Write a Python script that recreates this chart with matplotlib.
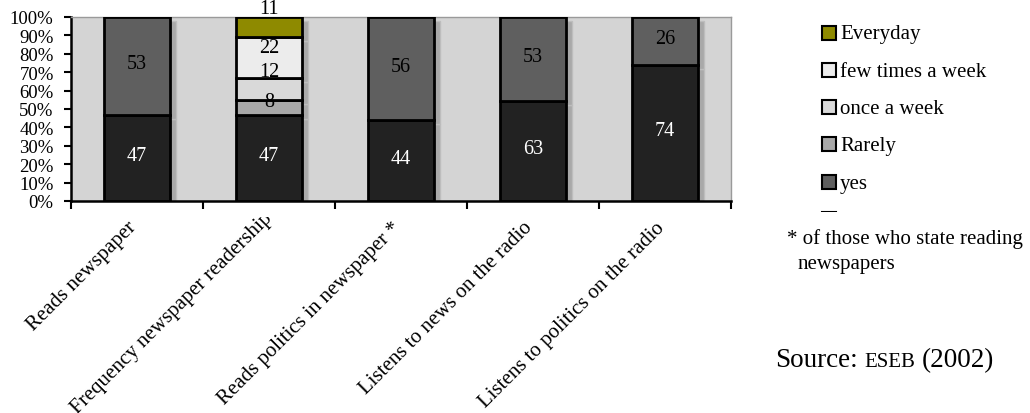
import numpy as np
import matplotlib
matplotlib.use("Agg")
import matplotlib.pyplot as plt
from matplotlib.patches import Rectangle
from matplotlib.transforms import Bbox

plt.rcParams['font.family'] = ['Liberation Serif', 'DejaVu Serif']

categories = ["Reads newspaper", "Frequency newspaper readership",
              "Reads politics in newspaper *", "Listens to news on the radio",
              "Listens to politics on the radio"]

# series are stacked bottom to top
series = ["No", "yes", "Rarely", "once a week", "few times a week", "Everyday"]
no = [47, 47, 44, 63, 74]
yes = [53, 0, 56, 53, 26]
rarely = [0, 8, 0, 0, 0]
once_week = [0, 12, 0, 0, 0]
few_week = [0, 22, 0, 0, 0]
everyday = [0, 11, 0, 0, 0]
colors = ["#222222", "#5f5f5f", "#a8a8a8", "#d9d9d9", "#ececec", "#8e8a00"]

values = np.array([no, yes, rarely, once_week, few_week, everyday], dtype=float)
pct = values / values.sum(axis=0) * 100

W, H = 1030, 414
fig = plt.figure(figsize=(W / 100, H / 100), dpi=100)
ax = fig.add_axes([71 / W, 1 - 202 / H, 660 / W, 184 / H])
ax.set_facecolor("#d4d4d4")

x = np.arange(len(categories))
width = 0.5

# label nudges (points) for the crowded frequency bar
nudge = {(2, 1): 2.5, (3, 1): 11, (4, 1): 6, (5, 1): 12}

bottom = np.zeros(len(categories))
for s, name in enumerate(series):
    for i in x:
        v = pct[s, i]
        if v <= 0:
            continue
        # flat shadow behind each segment
        ax.bar(i + 0.045, v, bottom=bottom[i] - 2.3, width=width,
               color="#a9a9a9", edgecolor="#bdbdbd", linewidth=1, zorder=2)
        ax.bar(i, v, bottom=bottom[i], width=width, color=colors[s],
               edgecolor="black", linewidth=2, zorder=3)
        ax.annotate(f"{values[s, i]:.0f}", (i, bottom[i] + v / 2),
                    xytext=(0, 1.5 + nudge.get((s, i), 0)),
                    textcoords="offset points", ha="center", va="center",
                    fontsize=14.5, color="white" if s == 0 else "black",
                    zorder=5, annotation_clip=False)
    bottom += pct[s]

ax.set_xlim(-0.5, 4.5)
ax.set_ylim(0, 100)
ax.set_yticks(np.arange(0, 101, 10))
ax.set_yticklabels([f"{v}%" for v in range(0, 101, 10)])
ax.set_xticks(np.arange(-0.5, 5, 1))
ax.set_xticklabels([])
ax.tick_params(axis="y", direction="out", length=5, width=1.5,
               labelsize=13.5, pad=7.5)
ax.tick_params(axis="x", direction="out", length=6, width=1.5)
for side in ("left", "bottom"):
    ax.spines[side].set_linewidth(1.8)
    ax.spines[side].set_color("black")
for side in ("top", "right"):
    ax.spines[side].set_linewidth(1)
    ax.spines[side].set_color("#9a9a9a")

# category names; the long one runs past its box and is cut there
cut = Bbox([[0, 0], [W, H - 218]])
for i, name in enumerate(categories):
    if i == 1:
        t = ax.annotate(name, (i, 0), xycoords=ax.get_xaxis_transform(),
                        xytext=(-138, -153), textcoords="offset points",
                        ha="left", va="baseline", rotation=45,
                        rotation_mode="anchor", fontsize=15,
                        annotation_clip=False)
        t.set_clip_box(cut)
        t.set_clip_on(True)
    else:
        ax.annotate(name, (i, 0), xycoords=ax.get_xaxis_transform(),
                    xytext=(-7, -12), textcoords="offset points",
                    ha="right", va="top", rotation=45, rotation_mode="anchor",
                    fontsize=15, annotation_clip=False)

# legend, top entry first; last entry is cut off
leg_clip = Bbox([[0, H - 213], [W, H]])
for k, s in enumerate(range(len(series) - 1, -1, -1)):
    yc = 33.5 + 37.3 * k
    r = Rectangle((822 / W, 1 - (yc + 7) / H), 14 / W, 14 / H,
                  transform=fig.transFigure, facecolor=colors[s],
                  edgecolor="black", linewidth=1.5)
    fig.add_artist(r)
    r.set_clip_box(leg_clip)
    r.set_clip_on(True)
    t = fig.text(840 / W, 1 - (yc + 1.5) / H, series[s], va="center",
                 fontsize=15)
    t.set_clip_box(leg_clip)
    t.set_clip_on(True)

fig.text(787 / W, 1 - 239 / H, "* of those who state reading", va="center",
         fontsize=15)
fig.text(798 / W, 1 - 265 / H, "newspapers", va="center", fontsize=15)

# source line with small caps for the survey name
renderer = fig.canvas.get_renderer()
xp = 775
for part, size, gap in [("Source:", 19.5, 7), ("ESEB", 15, 6), ("(2002)", 19.5, 0)]:
    t = fig.text(xp / W, 1 - 367 / H, part, fontsize=size, va="baseline")
    xp += t.get_window_extent(renderer).width + gap

fig.savefig("out.png", dpi=100)
